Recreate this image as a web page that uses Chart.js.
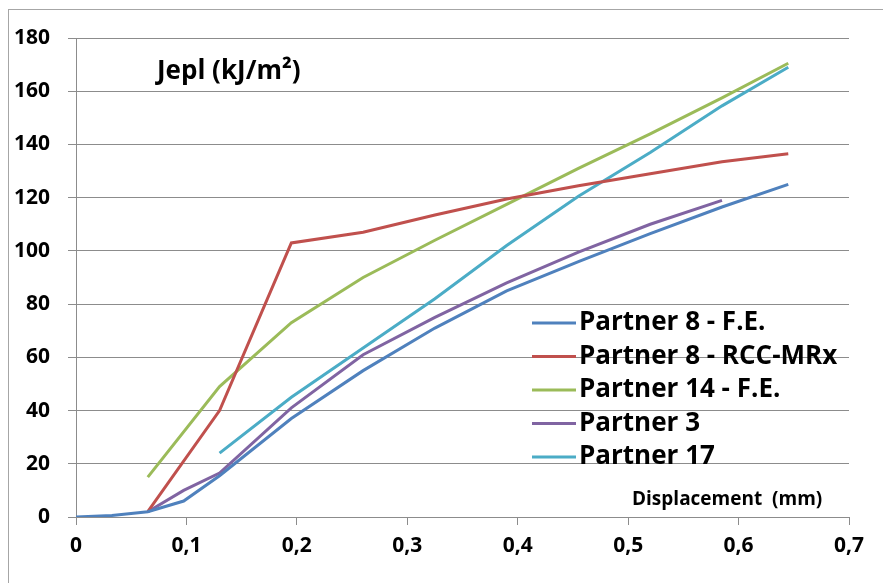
<!DOCTYPE html>
<html>
<head>
<meta charset="utf-8">
<script src="https://cdn.jsdelivr.net/npm/chart.js@4/dist/chart.umd.min.js"></script>
<style>
  body { margin: 0; background: #fff; }
  #wrap { width: 883px; height: 583px; }
</style>
</head>
<body>
<div id="wrap"><canvas id="chart"></canvas></div>
<script>
const displacement = [0, 0.0325, 0.065, 0.0975, 0.13, 0.195, 0.26, 0.325, 0.39, 0.455, 0.52, 0.585, 0.645];
const partner8FE  = [0, 0.6, 2, 6, 15.5, 37, 55, 71, 85, 96, 106.5, 116.5, 125];
const partner8RCC = [null, null, 2, null, 40, 103, 107, 113.5, 119.5, 124.5, 129, 133.5, 136.5];
const partner14FE = [null, null, 15, null, 49, 73, 90, 104, 117.5, 131, 144, 157.5, 170.5];
const partner3    = [null, null, 2, 10, 16.5, 41, 61, 75, 88, 99.5, 110, 119, null];
const partner17   = [null, null, null, null, 24, 45, 63.5, 82, 102, 120.5, 137, 154.5, 169];

const seriesNames = ['Partner 8 - F.E.', 'Partner 8 - RCC-MRx', 'Partner 14 - F.E.', 'Partner 3', 'Partner 17'];
const seriesColors = ['#4F81BD', '#C0504D', '#9BBB59', '#8064A2', '#4BACC6'];
const seriesValues = [partner8FE, partner8RCC, partner14FE, partner3, partner17];

const FONT = '"Open Sans", Lato, sans-serif';
const GRID = '#8c8c8c';

function toPoints(values) {
    return displacement.map((x, i) => ({ x: x, y: values[i] })).filter(p => p.y !== null);
}

// frame, in-plot title, axis title and legend
const decorations = {
    id: 'decorations',
    beforeDraw(chart) {
        const ctx = chart.ctx;
        ctx.save();
        ctx.strokeStyle = '#a6a6a6';
        ctx.lineWidth = 1;
        ctx.strokeRect(8.5, 9.5, 900, 600);
        ctx.restore();
    },
    afterDraw(chart) {
        const ctx = chart.ctx;
        ctx.save();
        ctx.fillStyle = '#000';
        ctx.textBaseline = 'middle';
        ctx.font = 'bold 26px ' + FONT;
        ctx.fillText('Jepl (kJ/m²)', 157, 72);
        ctx.font = 'bold 19px ' + FONT;
        ctx.fillText('Displacement  (mm)', 632, 500);

        ctx.font = 'bold 26px ' + FONT;
        chart.data.datasets.forEach((ds, i) => {
            const y = 323 + i * 33.5;
            ctx.strokeStyle = ds.borderColor;
            ctx.lineWidth = 3;
            ctx.beginPath();
            ctx.moveTo(532, y);
            ctx.lineTo(576, y);
            ctx.stroke();
            ctx.fillText(ds.label, 579, y);
        });
        ctx.restore();
    }
};

new Chart(document.getElementById('chart'), {
    type: 'scatter',
    data: {
        datasets: seriesValues.map((vals, i) => ({
            label: seriesNames[i],
            data: toPoints(vals),
            showLine: true,
            borderColor: seriesColors[i],
            backgroundColor: seriesColors[i],
            borderWidth: 3,
            pointRadius: 0,
            tension: 0
        }))
    },
    options: {
        responsive: true,
        maintainAspectRatio: false,
        animation: false,
        layout: { padding: { left: 0, top: 38, right: 34, bottom: 0 } },
        plugins: {
            legend: { display: false },
            tooltip: { enabled: false }
        },
        scales: {
            x: {
                type: 'linear',
                min: 0,
                max: 0.7,
                afterFit(scale) { scale.height = 66; },
                ticks: {
                    stepSize: 0.1,
                    padding: 8,
                    color: '#000',
                    font: { family: FONT, size: 21, weight: 'bold' },
                    callback: v => v === 0 ? '0' : v.toFixed(1).replace('.', ',')
                },
                grid: { drawOnChartArea: false, drawTicks: true, tickLength: 8, color: GRID },
                border: { display: true, color: GRID }
            },
            y: {
                min: 0,
                max: 180,
                afterFit(scale) { scale.width = 76; },
                ticks: {
                    stepSize: 20,
                    padding: 18,
                    color: '#000',
                    font: { family: FONT, size: 21, weight: 'bold' }
                },
                grid: { color: GRID, tickLength: 8 },
                border: { display: true, color: GRID }
            }
        }
    },
    plugins: [decorations]
});
</script>
</body>
</html>
